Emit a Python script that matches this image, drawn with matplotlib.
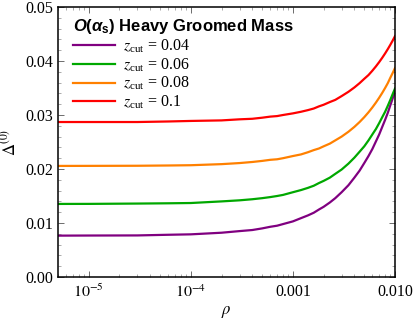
import matplotlib
matplotlib.use("Agg")
import matplotlib.pyplot as plt
from matplotlib.ticker import FixedLocator, MultipleLocator, LogLocator, NullFormatter

plt.rcParams['font.family'] = ['Liberation Serif', 'DejaVu Serif']
plt.rcParams['mathtext.fontset'] = 'stix'
plt.rcParams['mathtext.it'] = 'Liberation Sans:italic:bold'
plt.rcParams['mathtext.rm'] = 'Liberation Sans:bold'
plt.rcParams['mathtext.bf'] = 'Liberation Sans:bold'

rho = [5e-6, 1e-5, 3e-5, 6e-5, 1e-4, 2e-4, 3e-4, 4e-4, 5e-4, 6e-4, 7e-4, 8e-4, 1e-3,
       1.2e-3, 1.4e-3, 1.6e-3, 1.8e-3, 2e-3, 2.3e-3, 2.6e-3, 3e-3, 3.5e-3, 4e-3,
       4.5e-3, 5e-3, 5.5e-3, 6e-3, 6.5e-3, 7e-3, 7.5e-3, 8e-3, 8.5e-3, 9e-3, 9.5e-3, 1e-2]
delta_004 = [0.00766, 0.00768, 0.0077, 0.00782, 0.0079, 0.0082, 0.0085, 0.0087, 0.0090, 0.0093, 0.0095,
             0.0098, 0.0103, 0.0109, 0.0114, 0.0119, 0.0125, 0.0130, 0.0138, 0.0146, 0.0157,
             0.0170, 0.0184, 0.0197, 0.0211, 0.0224, 0.0237, 0.0251, 0.0264, 0.0278, 0.0291,
             0.0304, 0.0318, 0.0331, 0.0345]
delta_006 = [0.01353, 0.01354, 0.0136, 0.01365, 0.0137, 0.0140, 0.0142, 0.0144, 0.0146, 0.0148, 0.0150,
             0.0152, 0.0157, 0.0161, 0.0165, 0.0169, 0.0174, 0.0178, 0.0184, 0.0191, 0.0199,
             0.0210, 0.0221, 0.0232, 0.0242, 0.0253, 0.0264, 0.0274, 0.0285, 0.0296, 0.0306,
             0.0317, 0.0328, 0.0339, 0.0349]
delta_008 = [0.02057, 0.02058, 0.0206, 0.02065, 0.0207, 0.0209, 0.0211, 0.0213, 0.0215, 0.0217, 0.0218,
             0.0220, 0.0224, 0.0227, 0.0231, 0.0235, 0.0238, 0.0242, 0.0247, 0.0253, 0.0260,
             0.0269, 0.0278, 0.0287, 0.0296, 0.0305, 0.0314, 0.0323, 0.0332, 0.0341, 0.0350,
             0.0359, 0.0369, 0.0378, 0.0387]
delta_010 = [0.0287, 0.0287, 0.0287, 0.0288, 0.0289, 0.0290, 0.0292, 0.0293, 0.0295, 0.0297, 0.0298,
             0.0300, 0.0303, 0.0306, 0.0309, 0.0312, 0.0316, 0.0319, 0.0324, 0.0328, 0.0335,
             0.0343, 0.0351, 0.0359, 0.0367, 0.0374, 0.0382, 0.0390, 0.0398, 0.0406, 0.0414,
             0.0422, 0.0430, 0.0438, 0.0446]
series = [delta_004, delta_006, delta_008, delta_010]
labels = [r"$z_{\mathregular{cut}}$ = 0.04", r"$z_{\mathregular{cut}}$ = 0.06",
          r"$z_{\mathregular{cut}}$ = 0.08", r"$z_{\mathregular{cut}}$ = 0.1"]
colors = ["#800080", "#00A800", "#FF8000", "#FF0000"]
legend_title = r"$O(\alpha_\mathrm{s})$ Heavy Groomed Mass"

xticks = [1e-5, 1e-4, 1e-3, 1e-2]
xticklabels = [r"$10^{-5}$", r"$10^{-4}$", "0.001", "0.010"]
yticks = [0.00, 0.01, 0.02, 0.03, 0.04, 0.05]
yticklabels = ["0.00", "0.01", "0.02", "0.03", "0.04", "0.05"]

fig = plt.figure(figsize=(4.14, 3.24), dpi=100)
ax = fig.add_axes([58/414, 1-277/324, (395-58)/414, (277-7)/324])

for d, lab, c in zip(series, labels, colors):
    ax.plot(rho, d, color=c, lw=1.6, label=lab)

ax.set_xscale('log')
ax.set_xlim(5e-6, 1e-2)
ax.set_ylim(0, 0.05)
ax.xaxis.set_major_locator(FixedLocator(xticks))
ax.set_xticklabels(xticklabels)
ax.xaxis.set_minor_locator(LogLocator(base=10, subs=range(2, 10)))
ax.xaxis.set_minor_formatter(NullFormatter())
ax.yaxis.set_major_locator(FixedLocator(yticks))
ax.set_yticklabels(yticklabels)
ax.yaxis.set_minor_locator(MultipleLocator(0.002))

ax.tick_params(which='both', direction='in', top=True, right=True, labelsize=11.5, colors='black')
ax.tick_params(which='major', length=4.5, width=0.6, color='#555555')
ax.tick_params(which='minor', length=2.5, width=0.5, color='#888888')
ax.tick_params(axis='x', pad=5)
for sp in ax.spines.values():
    sp.set_linewidth(1.1)
    sp.set_color('black')

ax.set_xlabel(r"$\rho$", fontsize=12, labelpad=2)
ax.set_ylabel(r"$\Delta^{(0)}$", fontsize=12, labelpad=4)

leg = ax.legend(loc='upper left', frameon=False, fontsize=11.5, handlelength=2.6,
                handletextpad=0.5, labelspacing=0.1, borderaxespad=0.3,
                bbox_to_anchor=(0.012, 1.003))
leg.set_title(legend_title)
t = leg.get_title()
t.set_fontfamily('Liberation Sans')
t.set_fontweight('bold')
t.set_fontsize(12)
t.set_math_fontfamily('custom')
for txt in leg.get_texts():
    txt.set_math_fontfamily('stix')
leg._legend_box.align = 'left'

fig.savefig('out.png', dpi=100)
